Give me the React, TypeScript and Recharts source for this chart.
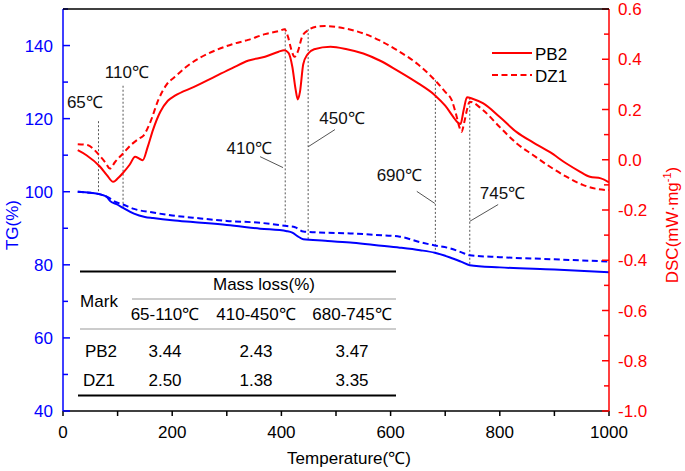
import React from 'react';
import { ComposedChart, Line, XAxis, YAxis, ReferenceLine, ReferenceDot } from 'recharts';

// ---- data ----
const tgPB2: number[][] = [[27,100],[50,99.7],[70,99.2],[80,98.6],[86,97.5],[98,96.6],[110,95.6],[130,94.0],[150,93.1],[165,92.8],[200,92.2],[238,91.7],[300,90.9],[361,89.9],[410,89.2],[420,88.8],[430,87.8],[440,87.0],[480,86.6],[526,86.1],[570,85.4],[617,84.7],[654,84.0],[681,83.3],[709,82.0],[730,80.8],[745,79.9],[800,79.3],[900,78.7],[1000,78.0]];
const tgDZ1: number[][] = [[27,100],[50,99.7],[70,99.2],[82,98.5],[95,97.3],[110,96.5],[130,95.3],[165,94.3],[200,93.5],[238,92.9],[300,92.0],[361,91.5],[410,90.6],[425,90.3],[440,89.1],[480,88.8],[526,88.6],[570,88.2],[617,87.7],[654,86.2],[681,85.3],[709,84.5],[730,83.4],[745,82.6],[800,82.1],[900,81.5],[1000,80.9]];
const dscPB2: number[][] = [[27,0.038],[43,0.018],[68,-0.028],[80,-0.06],[92,-0.088],[100,-0.075],[110,-0.052],[122,-0.02],[132,0.012],[140,0.004],[146,-0.002],[155,0.05],[165,0.12],[178,0.19],[192,0.235],[205,0.255],[240,0.29],[280,0.333],[310,0.365],[340,0.395],[370,0.41],[395,0.43],[405,0.436],[413,0.425],[420,0.37],[426,0.28],[430,0.24],[434,0.27],[440,0.38],[448,0.42],[460,0.44],[490,0.45],[520,0.44],[550,0.423],[580,0.395],[611,0.357],[650,0.305],[681,0.257],[700,0.215],[715,0.17],[722,0.15],[728,0.142],[734,0.2],[740,0.249],[750,0.243],[769,0.225],[800,0.17],[831,0.11],[860,0.07],[892,0.03],[922,-0.015],[945,-0.045],[965,-0.068],[985,-0.074],[1000,-0.09]];
const dscDZ1: number[][] = [[27,0.062],[46,0.058],[57,0.04],[68,0.014],[78,-0.012],[86,-0.035],[95,-0.01],[110,0.025],[125,0.06],[140,0.085],[147,0.095],[159,0.145],[175,0.24],[190,0.3],[205,0.33],[226,0.37],[250,0.405],[281,0.437],[310,0.46],[339,0.477],[370,0.5],[395,0.512],[406,0.519],[412,0.49],[418,0.44],[424,0.41],[430,0.43],[438,0.49],[449,0.516],[465,0.53],[480,0.532],[510,0.525],[550,0.503],[580,0.475],[611,0.437],[650,0.38],[681,0.317],[700,0.27],[712,0.237],[720,0.18],[726,0.13],[730,0.111],[735,0.15],[740,0.2],[745,0.231],[769,0.198],[800,0.13],[831,0.065],[860,0.02],[892,-0.028],[920,-0.065],[952,-0.1],[975,-0.115],[1000,-0.121]];

const xTicks = [0,100,200,300,400,500,600,700,800,900,1000];
const tgTicks = [40,50,60,70,80,90,100,110,120,130,140,150];
const dscTicks = [-1.0,-0.9,-0.8,-0.7,-0.6,-0.5,-0.4,-0.3,-0.2,-0.1,0,0.1,0.2,0.3,0.4,0.5,0.6];

// annotation markers: [temperature, top TG value, bottom TG value]
const markLines: number[][] = [[65,119.3,99.8],[110,129.0,95.3],[407,144.7,91.0],[449,144.5,86.7],[682,130.6,83.3],[745,125.7,79.9]];
// annotation labels: [text x, text y (TG scale)]
const markLabels = ['65℃','110℃','410℃','450℃','690℃','745℃'];
const markLabelPos: number[][] = [[40,124.6],[117,132.8],[341,112.1],[511,120.1],[616,104.7],[805,99.7]];
// leader lines: [x1,y1,x2,y2] in data coords
const leaders: number[][] = [[361,109.6,403,106.6],[498,117.0,449,112.3],[648,100.1,681,96.8],[797,96.5,745,91.9]];

// table
const tableSamples = ['PB2','DZ1'];
const tableRanges = ['65-110℃','410-450℃','680-745℃'];
const massLossPB2 = [3.44, 2.43, 3.47];
const massLossDZ1 = [2.50, 1.38, 3.35];

const toPts = (a: number[][]) => a.map(([x, y]) => ({ x, y }));

const FONT = 'Liberation Sans, Arial, sans-serif';
const BLUE = '#0000ff';
const RED = '#ff0000';

const LeftTick = (p: any) => {
  const v = p.payload.value;
  const major = v % 20 === 0;
  return (
    <g>
      <line x1={p.x + 10} x2={p.x + 10 + (major ? 7 : 5)} y1={p.y} y2={p.y} stroke={BLUE} strokeWidth={1.5} />
      {major && v <= 140 ? (
        <text x={p.x} y={p.y} dy="0.355em" textAnchor="end" fill={BLUE} fontSize={17} fontFamily={FONT}>{v}</text>
      ) : null}
    </g>
  );
};

const RightTick = (p: any) => {
  const v = p.payload.value;
  const k = Math.round(v * 10);
  const major = k % 2 === 0;
  return (
    <g>
      <line x1={p.x - 9} x2={p.x - 9 - (major ? 7 : 5)} y1={p.y} y2={p.y} stroke={RED} strokeWidth={1.5} />
      {major ? (
        <text x={p.x} y={p.y} dy="0.355em" textAnchor="start" fill={RED} fontSize={17} fontFamily={FONT}>{(k / 10).toFixed(1)}</text>
      ) : null}
    </g>
  );
};

const BottomTick = (p: any) => {
  const v = p.payload.value;
  if (v % 200 !== 0) return <g />;
  return (
    <text x={p.x} y={p.y} dy="0.71em" textAnchor="middle" fill="#000" fontSize={17} fontFamily={FONT}>{v}</text>
  );
};

export default function App() {
  const colX = [99, 165, 256, 352];
  return (
    <div style={{ position: 'absolute', left: 0, top: 0, width: 685, height: 471, background: '#fff' }}>
      <ComposedChart width={685} height={471} margin={{ top: 9, right: 0, bottom: 0, left: 0 }}>
        <XAxis dataKey="x" type="number" domain={[0, 1000]} ticks={xTicks} allowDataOverflow height={60}
          tickSize={5} tickMargin={10} tick={<BottomTick />} tickLine={{ stroke: '#000', strokeWidth: 1.5 }}
          axisLine={{ stroke: '#000', strokeWidth: 1.5 }} interval={0} />
        <YAxis yAxisId="tg" orientation="left" type="number" domain={[40, 150]} ticks={tgTicks} width={63}
          allowDataOverflow tickSize={0} tickMargin={10} tickLine={false} tick={<LeftTick />} interval={0}
          axisLine={{ stroke: BLUE, strokeWidth: 1.5 }} />
        <YAxis yAxisId="dsc" orientation="right" type="number" domain={[-1, 0.6]} ticks={dscTicks} width={76}
          allowDataOverflow tickSize={0} tickMargin={9} tickLine={false} tick={<RightTick />} interval={0}
          axisLine={{ stroke: RED, strokeWidth: 1.5 }} />

        {markLines.map(([x, y1, y2], i) => (
          <ReferenceLine key={'ml' + i} yAxisId="tg" segment={[{ x, y: y1 }, { x, y: y2 }]} stroke="#555" strokeWidth={1} strokeDasharray="2 2" />
        ))}
        {leaders.map(([x1, y1, x2, y2], i) => (
          <ReferenceLine key={'ld' + i} yAxisId="tg" segment={[{ x: x1, y: y1 }, { x: x2, y: y2 }]} stroke="#555" strokeWidth={1} />
        ))}

        <Line yAxisId="tg" data={toPts(tgDZ1)} dataKey="y" type="monotone" stroke={BLUE} strokeWidth={2} strokeDasharray="6 3.5" dot={false} activeDot={false} isAnimationActive={false} />
        <Line yAxisId="tg" data={toPts(tgPB2)} dataKey="y" type="monotone" stroke={BLUE} strokeWidth={2} dot={false} activeDot={false} isAnimationActive={false} />
        <Line yAxisId="dsc" data={toPts(dscDZ1)} dataKey="y" type="monotone" stroke={RED} strokeWidth={2} strokeDasharray="6 3.5" dot={false} activeDot={false} isAnimationActive={false} />
        <Line yAxisId="dsc" data={toPts(dscPB2)} dataKey="y" type="monotone" stroke={RED} strokeWidth={2} dot={false} activeDot={false} isAnimationActive={false} />

        {markLabels.map((t, i) => (
          <ReferenceDot key={'lb' + i} yAxisId="tg" x={markLabelPos[i][0]} y={markLabelPos[i][1]} r={0} fill="none" stroke="none"
            label={{ value: t, position: 'center', fontSize: 17, fill: '#111', fontFamily: FONT }} />
        ))}
      </ComposedChart>

      <svg width={685} height={471} style={{ position: 'absolute', left: 0, top: 0, pointerEvents: 'none' }} fontFamily={FONT}>
        {/* top frame */}
        <line x1={63} x2={609} y1={9} y2={9} stroke="#000" strokeWidth={1.5} />
        {/* axis titles */}
        <text transform="translate(17.5,225) rotate(-90)" textAnchor="middle" fill={BLUE} fontSize={17}>TG(%)</text>
        <text transform="translate(678,225) rotate(-90)" textAnchor="middle" fill={RED} fontSize={17}>
          <tspan>DSC(mW·mg</tspan><tspan dy={-7} fontSize={11}>-1</tspan><tspan dy={7}>)</tspan>
        </text>
        <text x={349} y={464} textAnchor="middle" fill="#000" fontSize={17}>Temperature(℃)</text>

        {/* legend */}
        <line x1={492} x2={532} y1={53} y2={53} stroke={RED} strokeWidth={2} />
        <text x={535} y={59.5} fontSize={17} fill="#000">PB2</text>
        <line x1={492} x2={532} y1={75} y2={75} stroke={RED} strokeWidth={2} strokeDasharray="6 3.5" />
        <text x={535} y={81.5} fontSize={17} fill="#000">DZ1</text>

        {/* table */}
        <line x1={80} x2={396} y1={271.5} y2={271.5} stroke="#000" strokeWidth={2} />
        <text x={264} y={289.5} textAnchor="middle" fontSize={17} fill="#000">Mass loss(%)</text>
        <line x1={132} x2={396} y1={299} y2={299} stroke="#999" strokeWidth={1} />
        <text x={colX[0]} y={307} textAnchor="middle" fontSize={17} fill="#000">Mark</text>
        {tableRanges.map((r, i) => (
          <text key={'h' + i} x={colX[i + 1]} y={320} textAnchor="middle" fontSize={17} fill="#000">{r}</text>
        ))}
        <line x1={80} x2={396} y1={329} y2={329} stroke="#999" strokeWidth={1} />
        {[massLossPB2, massLossDZ1].map((row, r) => (
          <g key={'r' + r}>
            <text x={colX[0] + (r === 0 ? 2 : 0)} y={r === 0 ? 357 : 386} textAnchor="middle" fontSize={17} fill="#000">{tableSamples[r]}</text>
            {row.map((v, i) => (
              <text key={i} x={colX[i + 1]} y={r === 0 ? 357 : 386} textAnchor="middle" fontSize={17} fill="#000">{v.toFixed(2)}</text>
            ))}
          </g>
        ))}
        <line x1={78} x2={396} y1={395.5} y2={395.5} stroke="#000" strokeWidth={2} />
      </svg>
    </div>
  );
}
